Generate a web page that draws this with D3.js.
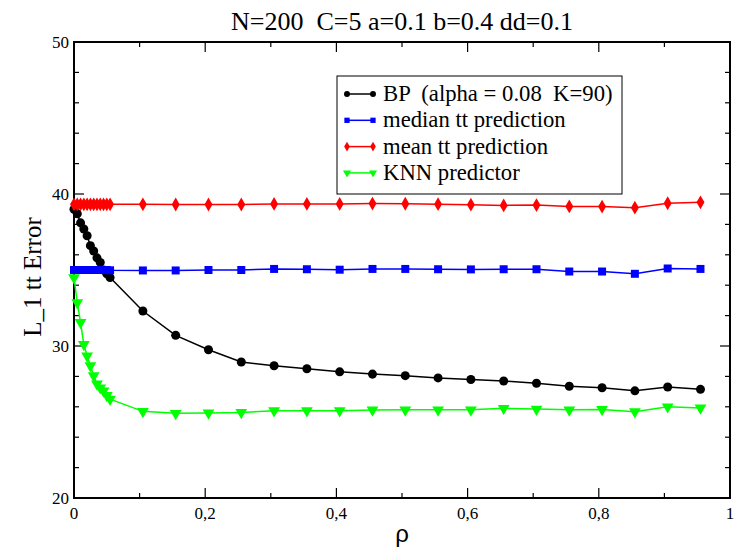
<!DOCTYPE html>
<html>
<head>
<meta charset="utf-8">
<script src="https://cdn.jsdelivr.net/npm/d3@7"></script>
<style>
  body { margin: 0; background: #fff; }
  text { font-family: "Liberation Serif", "Times New Roman", serif; white-space: pre; }
</style>
</head>
<body>
<svg width="740" height="550"></svg>
<script>
// rho values (dense near zero, then every 0.05)
const rho = [0, 0.005, 0.01, 0.015, 0.02, 0.025, 0.03, 0.035, 0.04, 0.045, 0.05, 0.055,
    0.105, 0.155, 0.205, 0.255, 0.305, 0.355, 0.405, 0.455, 0.505, 0.555, 0.605,
    0.655, 0.705, 0.755, 0.805, 0.855, 0.905, 0.955];

const bp = [39.0, 38.7, 38.1, 37.7, 37.25, 36.6, 36.25, 35.8, 35.5, 35.0, 34.75, 34.5,
    32.3, 30.7, 29.75, 28.95, 28.7, 28.5, 28.3, 28.15, 28.05, 27.9, 27.8,
    27.7, 27.55, 27.35, 27.25, 27.05, 27.3, 27.15];

const median = [35.0, 35.0, 35.0, 35.0, 35.0, 35.0, 35.0, 35.0, 35.0, 35.0, 35.0, 34.98,
    34.97, 34.97, 35.0, 35.0, 35.07, 35.05, 35.02, 35.07, 35.07, 35.05, 35.04,
    35.05, 35.05, 34.9, 34.9, 34.75, 35.1, 35.07];

const mean = [39.32, 39.32, 39.32, 39.32, 39.32, 39.32, 39.32, 39.32, 39.32, 39.32, 39.32, 39.32,
    39.32, 39.31, 39.31, 39.31, 39.35, 39.35, 39.35, 39.37, 39.36, 39.33, 39.3,
    39.25, 39.27, 39.18, 39.17, 39.1, 39.39, 39.45];

const knn = [34.5, 32.85, 31.55, 30.1, 29.35, 28.7, 28.05, 27.5, 27.25, 27.05, 26.75, 26.5,
    25.7, 25.57, 25.6, 25.63, 25.74, 25.74, 25.74, 25.79, 25.8, 25.8, 25.8,
    25.9, 25.85, 25.8, 25.83, 25.68, 26.0, 25.92];

const xTicks = [0, 0.2, 0.4, 0.6, 0.8, 1];
const xTickLabels = ["0", "0,2", "0,4", "0,6", "0,8", "1"];
const yTicks = [20, 30, 40, 50];

const series = [
    { name: "BP  (alpha = 0.08  K=90)", values: bp, color: "#000000", shape: "circle" },
    { name: "median tt prediction", values: median, color: "#0000ff", shape: "square" },
    { name: "mean tt prediction", values: mean, color: "#ff0000", shape: "diamond" },
    { name: "KNN predictor", values: knn, color: "#00ff00", shape: "triangle" }
];

const svg = d3.select("svg");
const pLeft = 74, pRight = 730, pTop = 42, pBottom = 498;

const x = d3.scaleLinear().domain([0, 1]).range([pLeft, pRight]);
const y = d3.scaleLinear().domain([20, 50]).range([pBottom, pTop]);

// minor + major ticks, pointing inward on all four sides
const tickG = svg.append("g").attr("stroke", "#000").attr("stroke-width", 1.2);
d3.range(0, 11).forEach(i => {
    const v = i / 10, len = i % 2 === 0 ? 10 : 5;
    tickG.append("line").attr("x1", x(v)).attr("x2", x(v)).attr("y1", pBottom).attr("y2", pBottom - len);
    tickG.append("line").attr("x1", x(v)).attr("x2", x(v)).attr("y1", pTop).attr("y2", pTop + len);
});
d3.range(0, 16).forEach(i => {
    const v = 20 + i * 2, len = i % 5 === 0 ? 10 : 5;
    tickG.append("line").attr("y1", y(v)).attr("y2", y(v)).attr("x1", pLeft).attr("x2", pLeft + len);
    tickG.append("line").attr("y1", y(v)).attr("y2", y(v)).attr("x1", pRight).attr("x2", pRight - len);
});

// frame
svg.append("rect")
    .attr("x", pLeft).attr("y", pTop)
    .attr("width", pRight - pLeft).attr("height", pBottom - pTop)
    .attr("fill", "none").attr("stroke", "#000").attr("stroke-width", 2);

// tick labels
svg.append("g").selectAll("text")
    .data(xTicks)
    .enter().append("text")
    .attr("x", d => x(d))
    .attr("y", pBottom + 21)
    .attr("text-anchor", "middle")
    .attr("font-size", 17)
    .text((d, i) => xTickLabels[i]);

svg.append("g").selectAll("text")
    .data(yTicks)
    .enter().append("text")
    .attr("x", pLeft - 5)
    .attr("y", d => y(d) + 6)
    .attr("text-anchor", "end")
    .attr("font-size", 17)
    .text(d => d);

// title and axis labels
svg.append("text")
    .attr("x", (pLeft + pRight) / 2).attr("y", 30)
    .attr("text-anchor", "middle").attr("font-size", 26)
    .text("N=200  C=5 a=0.1 b=0.4 dd=0.1");

svg.append("text")
    .attr("transform", "translate(41," + 277 + ") rotate(-90)")
    .attr("text-anchor", "middle").attr("font-size", 25)
    .text("L_1 tt Error");

svg.append("text")
    .attr("x", (pLeft + pRight) / 2).attr("y", 542)
    .attr("text-anchor", "middle").attr("font-size", 24)
    .style("font-family", "'Liberation Sans', Arial, sans-serif")
    .text("ρ");

function symbolPath(shape, size) {
    const types = {
        circle: d3.symbolCircle, square: d3.symbolSquare,
        diamond: d3.symbolDiamond, triangle: d3.symbolTriangle
    };
    return d3.symbol().type(types[shape]).size(size)();
}

const line = d3.line().x(d => x(d[0])).y(d => y(d[1]));

series.forEach(s => {
    const pts = rho.map((r, i) => [r, s.values[i]]);
    const g = svg.append("g");
    g.append("path")
        .attr("d", line(pts))
        .attr("fill", "none")
        .attr("stroke", s.color)
        .attr("stroke-width", 1.5);
    const sz = s.shape === "circle" ? 64 : s.shape === "square" ? 64 : s.shape === "diamond" ? 55 : 60;
    g.selectAll("path.m")
        .data(pts)
        .enter().append("path")
        .attr("class", "m")
        .attr("d", symbolPath(s.shape, sz))
        .attr("transform", d => "translate(" + x(d[0]) + "," + y(d[1]) + ")" +
            (s.shape === "triangle" ? " rotate(180)" : ""))
        .attr("fill", s.color);
});

// legend
const lg = svg.append("g");
lg.append("rect")
    .attr("x", 337).attr("y", 76).attr("width", 285).attr("height", 118)
    .attr("fill", "#fff").attr("stroke", "#000").attr("stroke-width", 1);

series.forEach((s, i) => {
    const ly = 94 + i * 26.3;
    lg.append("line")
        .attr("x1", 347).attr("x2", 373).attr("y1", ly).attr("y2", ly)
        .attr("stroke", s.color).attr("stroke-width", 1.5);
    [347, 373].forEach(px => {
        lg.append("path")
            .attr("d", symbolPath(s.shape, 28))
            .attr("transform", "translate(" + px + "," + ly + ")" + (s.shape === "triangle" ? " rotate(180)" : ""))
            .attr("fill", s.color);
    });
    lg.append("text")
        .attr("x", 383).attr("y", ly + 7)
        .attr("font-size", 22.7)
        .text(s.name);
});
</script>
</body>
</html>
